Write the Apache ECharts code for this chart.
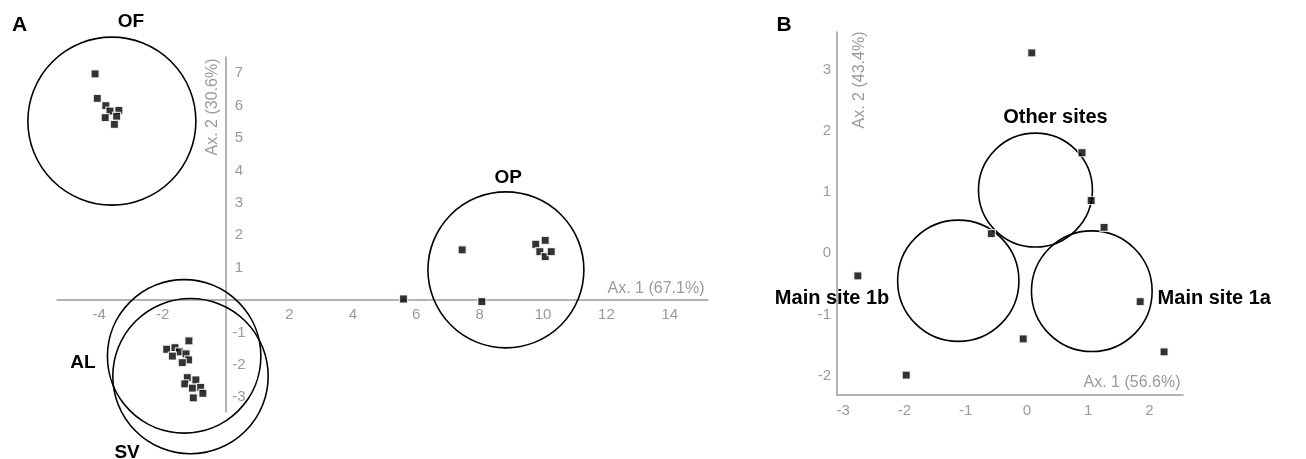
<!DOCTYPE html>
<html>
<head>
<meta charset="utf-8">
<script src="https://cdn.jsdelivr.net/npm/echarts@6/dist/echarts.min.js"></script>
<style>
html,body{margin:0;padding:0;background:#fff;}
#chart{width:1306px;height:459px;}
</style>
</head>
<body>
<div id="chart"></div>
<script>
// ---------- Panel A data ----------
const ofPoints = [[-4.13,6.98],[-4.06,6.22],[-3.79,6.00],[-3.66,5.83],[-3.38,5.85],[-3.81,5.63],[-3.45,5.67],[-3.52,5.42]];
const opPoints = [[7.45,1.55],[9.77,1.72],[10.07,1.84],[9.90,1.49],[10.07,1.34],[10.26,1.49],[8.07,-0.05],[5.60,0.03]];
const alsvPoints = [[-1.17,-1.26],[-1.87,-1.52],[-1.61,-1.47],[-1.47,-1.60],[-1.69,-1.73],[-1.26,-1.66],[-1.18,-1.85],[-1.38,-1.93],
                    [-1.22,-2.40],[-0.95,-2.47],[-1.30,-2.59],[-1.06,-2.72],[-0.80,-2.70],[-0.73,-2.88],[-1.03,-3.02]];
// circles: [centerX, centerY, radius]
const aCircles = [[-3.60,5.52,2.65],[8.83,0.93,2.46],[-1.32,-1.74,2.42],[-1.12,-2.35,2.45]];
const aGroupNames = ['OF','OP','AL','SV'];
const aLabelPos = [[-3.0,8.6],[8.9,3.77],[-4.51,-1.94],[-3.12,-4.72]];
const aXTicks = [-4,-2,2,4,6,8,10,12,14];
const aYTicks = [-3,-2,-1,1,2,3,4,5,6,7];
const aXRange = [-5.331, 15.205];
const aYRange = [-3.457, 7.5];

// ---------- Panel B data ----------
const bPoints = [[0.08,3.27],[0.90,1.64],[1.05,0.86],[1.26,0.42],[-0.58,0.32],[-2.76,-0.37],[1.85,-0.79],[-0.06,-1.40],[2.24,-1.61],[-1.97,-1.99]];
const bCircles = [[0.14,1.03,0.93],[-1.12,-0.45,0.99],[1.06,-0.62,0.985]];
const bGroupNames = ['Other sites','Main site 1b','Main site 1a'];
const bLabelPos = [[0.466,2.22],[-3.18,-0.735],[3.06,-0.735]];
const bXTicks = [-3,-2,-1,0,1,2];
const bYTicks = [-2,-1,0,1,2,3];
const bXRange = [-3.10, 2.549];
const bYRange = [-2.315, 3.611];

const FONT = '"Liberation Sans", Arial, Helvetica, sans-serif';
const GRAY = '#9a9a9a';

const gridA = {left:57, top:57, width:651, height:355};
const gridB = {left:837, top:32, width:346, height:363};
// move panel A axes so they cross at the origin (0,0)
const aXOffset = -gridA.height * (0 - aYRange[0]) / (aYRange[1] - aYRange[0]);
const aYOffset = -gridA.width * (0 - aXRange[0]) / (aXRange[1] - aXRange[0]);

function circleItem(params, api){
  const c = api.coord([api.value(0), api.value(1)]);
  const r = api.size([api.value(2), 0])[0];
  return {type:'circle', shape:{cx:c[0], cy:c[1], r:r}, style:{fill:'none', stroke:'#000', lineWidth:1.6}};
}
function labelItem(names, size){
  return function(params, api){
    const c = api.coord([api.value(0), api.value(1)]);
    return {type:'text', x:c[0], y:c[1], style:{text: names[params.dataIndex], font:'bold '+size+'px '+FONT, fill:'#000', align:'center', verticalAlign:'middle'}};
  };
}

const chart = echarts.init(document.getElementById('chart'), null, {renderer:'canvas'});
const axisLabelStyle = {color:GRAY, fontSize:15, fontFamily:FONT};

chart.setOption({
  animation:false,
  backgroundColor:'#fff',
  grid:[gridA, gridB],
  xAxis:[
    {type:'value', gridIndex:0, min:aXRange[0], max:aXRange[1], position:'bottom', offset:aXOffset,
     axisLine:{show:true, onZero:false, lineStyle:{color:GRAY, width:1.5}},
     axisTick:{show:false}, splitLine:{show:false},
     axisLabel:Object.assign({customValues:aXTicks, margin:7}, axisLabelStyle)},
    {type:'value', gridIndex:1, min:bXRange[0], max:bXRange[1],
     axisLine:{show:true, onZero:false, lineStyle:{color:GRAY, width:1.5}},
     axisTick:{show:false}, splitLine:{show:false},
     axisLabel:Object.assign({customValues:bXTicks, margin:8}, axisLabelStyle)}
  ],
  yAxis:[
    {type:'value', gridIndex:0, min:aYRange[0], max:aYRange[1], position:'left', offset:aYOffset,
     axisLine:{show:true, onZero:false, lineStyle:{color:GRAY, width:1.5}},
     axisTick:{show:false}, splitLine:{show:false},
     axisLabel:Object.assign({customValues:aYTicks, inside:true, align:'center', margin:13}, axisLabelStyle)},
    {type:'value', gridIndex:1, min:bYRange[0], max:bYRange[1],
     axisLine:{show:true, onZero:false, lineStyle:{color:GRAY, width:1.5}},
     axisTick:{show:false}, splitLine:{show:false},
     axisLabel:Object.assign({customValues:bYTicks, margin:6}, axisLabelStyle)}
  ],
  graphic:[
    {type:'text', x:19.5, y:25.5, style:{text:'A', font:'bold 21px '+FONT, fill:'#000', align:'center', verticalAlign:'middle'}},
    {type:'text', x:784, y:25, style:{text:'B', font:'bold 21px '+FONT, fill:'#000', align:'center', verticalAlign:'middle'}},
    {type:'text', x:213, y:107, rotation:Math.PI/2, style:{text:'Ax. 2 (30.6%)', font:'16px '+FONT, fill:GRAY, align:'center', verticalAlign:'middle'}},
    {type:'text', x:656, y:289, style:{text:'Ax. 1 (67.1%)', font:'16px '+FONT, fill:GRAY, align:'center', verticalAlign:'middle'}},
    {type:'text', x:860, y:80, rotation:Math.PI/2, style:{text:'Ax. 2 (43.4%)', font:'16px '+FONT, fill:GRAY, align:'center', verticalAlign:'middle'}},
    {type:'text', x:1132, y:383, style:{text:'Ax. 1 (56.6%)', font:'16px '+FONT, fill:GRAY, align:'center', verticalAlign:'middle'}}
  ],
  series:[
    {type:'custom', xAxisIndex:0, yAxisIndex:0, renderItem:circleItem, data:aCircles, clip:false, z:2},
    {type:'scatter', xAxisIndex:0, yAxisIndex:0, symbol:'rect', symbolSize:8, clip:false, z:3,
     itemStyle:{color:'#000', borderColor:'#fff', borderWidth:1.2}, data:ofPoints.concat(opPoints, alsvPoints)},
    {type:'custom', xAxisIndex:0, yAxisIndex:0, renderItem:labelItem(aGroupNames, 19), data:aLabelPos, clip:false, z:4},
    {type:'custom', xAxisIndex:1, yAxisIndex:1, renderItem:circleItem, data:bCircles, clip:false, z:2},
    {type:'scatter', xAxisIndex:1, yAxisIndex:1, symbol:'rect', symbolSize:8, clip:false, z:3,
     itemStyle:{color:'#000', borderColor:'#fff', borderWidth:1.2}, data:bPoints},
    {type:'custom', xAxisIndex:1, yAxisIndex:1, renderItem:labelItem(bGroupNames, 20), data:bLabelPos, clip:false, z:4}
  ]
});
</script>
</body>
</html>
